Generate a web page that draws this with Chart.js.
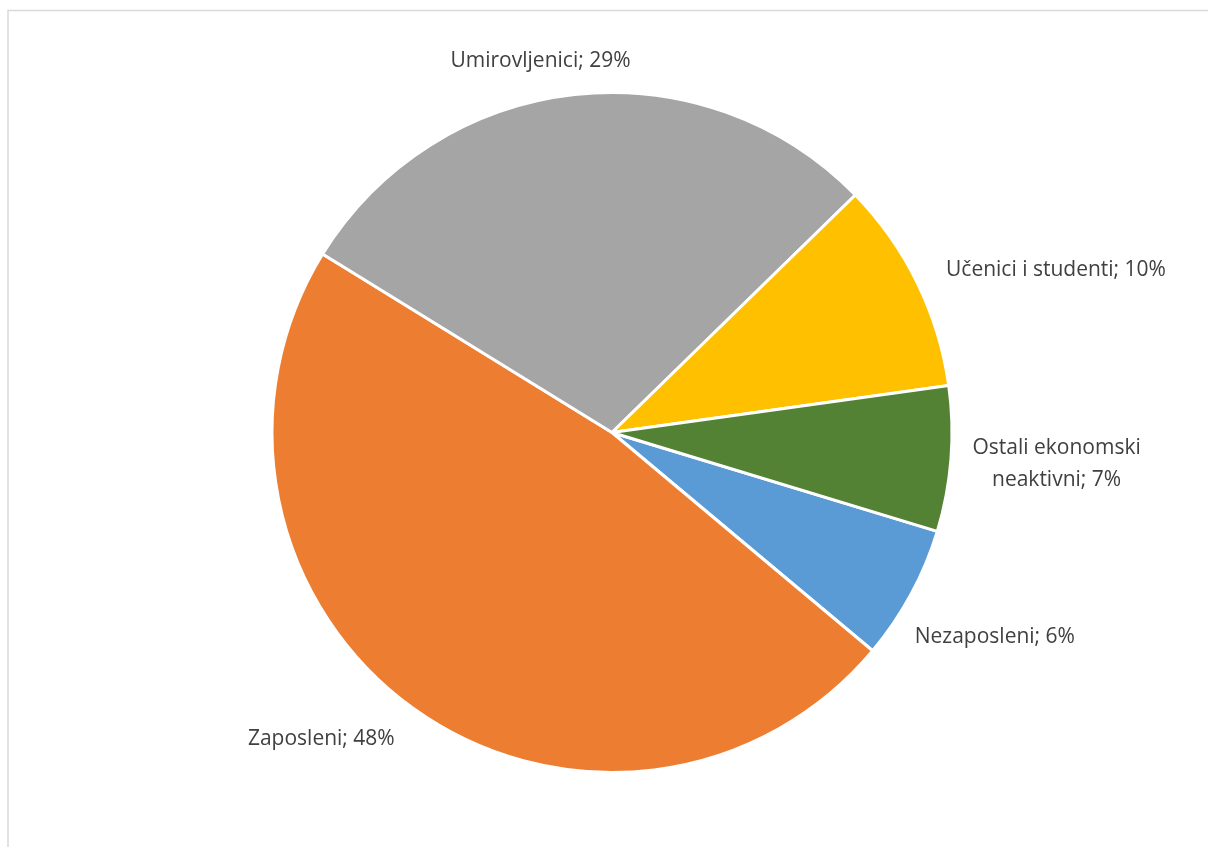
<!DOCTYPE html>
<html>
<head>
<meta charset="utf-8">
<script src="https://cdn.jsdelivr.net/npm/chart.js@4"></script>
<style>
html,body{margin:0;padding:0;background:#fff;}
#wrap{width:1208px;height:847px;position:relative;}
</style>
</head>
<body>
<div id="wrap"><canvas id="c" width="1208" height="847"></canvas></div>
<script>
// Data
const categories = ["Nezaposleni", "Zaposleni", "Umirovljenici", "Učenici i studenti", "Ostali ekonomski neaktivni"];
const shares = [6.4, 47.7, 28.9, 10.1, 6.9];
const pointLabels = [["Nezaposleni; 6%"], ["Zaposleni; 48%"], ["Umirovljenici; 29%"], ["Učenici i studenti; 10%"], ["Ostali ekonomski", "neaktivni; 7%"]];

// Style
const sliceColors = ["#5B9BD5", "#ED7D31", "#A5A5A5", "#FFC000", "#548235"];
// label placement: angle (deg, clockwise from top), distance from centre in radii, text alignment
const labelPlace = [
  {ang: 124.0, dist: 1.074, align: "left"},
  {ang: 215.3, dist: 1.106, align: "right"},
  {ang: 349.1, dist: 1.112, align: "center"},
  {ang: 64.0,  dist: 1.093, align: "left"},
  {ang: 94.1,  dist: 1.311, align: "center"}
];

const framePlugin = {
  id: "frame",
  beforeDraw(chart) {
    const ctx = chart.ctx;
    ctx.save();
    ctx.fillStyle = "#ffffff";
    ctx.fillRect(0, 0, chart.width, chart.height);
    ctx.strokeStyle = "#d9d9d9";
    ctx.lineWidth = 1.5;
    ctx.beginPath();
    ctx.moveTo(8, chart.height + 2);
    ctx.lineTo(8, 10.5);
    ctx.lineTo(chart.width + 2, 10.5);
    ctx.stroke();
    ctx.restore();
  }
};

const labelPlugin = {
  id: "pieLabels",
  afterDatasetsDraw(chart) {
    const meta = chart.getDatasetMeta(0);
    const ctx = chart.ctx;
    ctx.save();
    ctx.font = '21px "Open Sans", sans-serif';
    ctx.fillStyle = "#404040";
    ctx.textBaseline = "middle";
    meta.data.forEach((arc, i) => {
      const p = arc.getProps(["x", "y", "outerRadius"], true);
      const pl = labelPlace[i];
      const a = pl.ang * Math.PI / 180;
      const r = p.outerRadius * pl.dist;
      const x = p.x + Math.sin(a) * r;
      const y = p.y - Math.cos(a) * r;
      ctx.textAlign = pl.align;
      const lines = pointLabels[i];
      const lh = 32;
      lines.forEach((t, k) => {
        ctx.fillText(t, x, y + (k - (lines.length - 1) / 2) * lh);
      });
    });
    ctx.restore();
  }
};

new Chart(document.getElementById("c"), {
  type: "pie",
  data: {
    labels: categories,
    datasets: [{
      data: shares,
      backgroundColor: sliceColors,
      borderColor: "#ffffff",
      borderWidth: 3
    }]
  },
  options: {
    responsive: false,
    animation: false,
    rotation: 106.9,
    layout: {padding: {left: 270.5, right: 254.5, top: 91, bottom: 73}},
    plugins: {legend: {display: false}, tooltip: {enabled: false}}
  },
  plugins: [framePlugin, labelPlugin]
});
</script>
</body>
</html>
